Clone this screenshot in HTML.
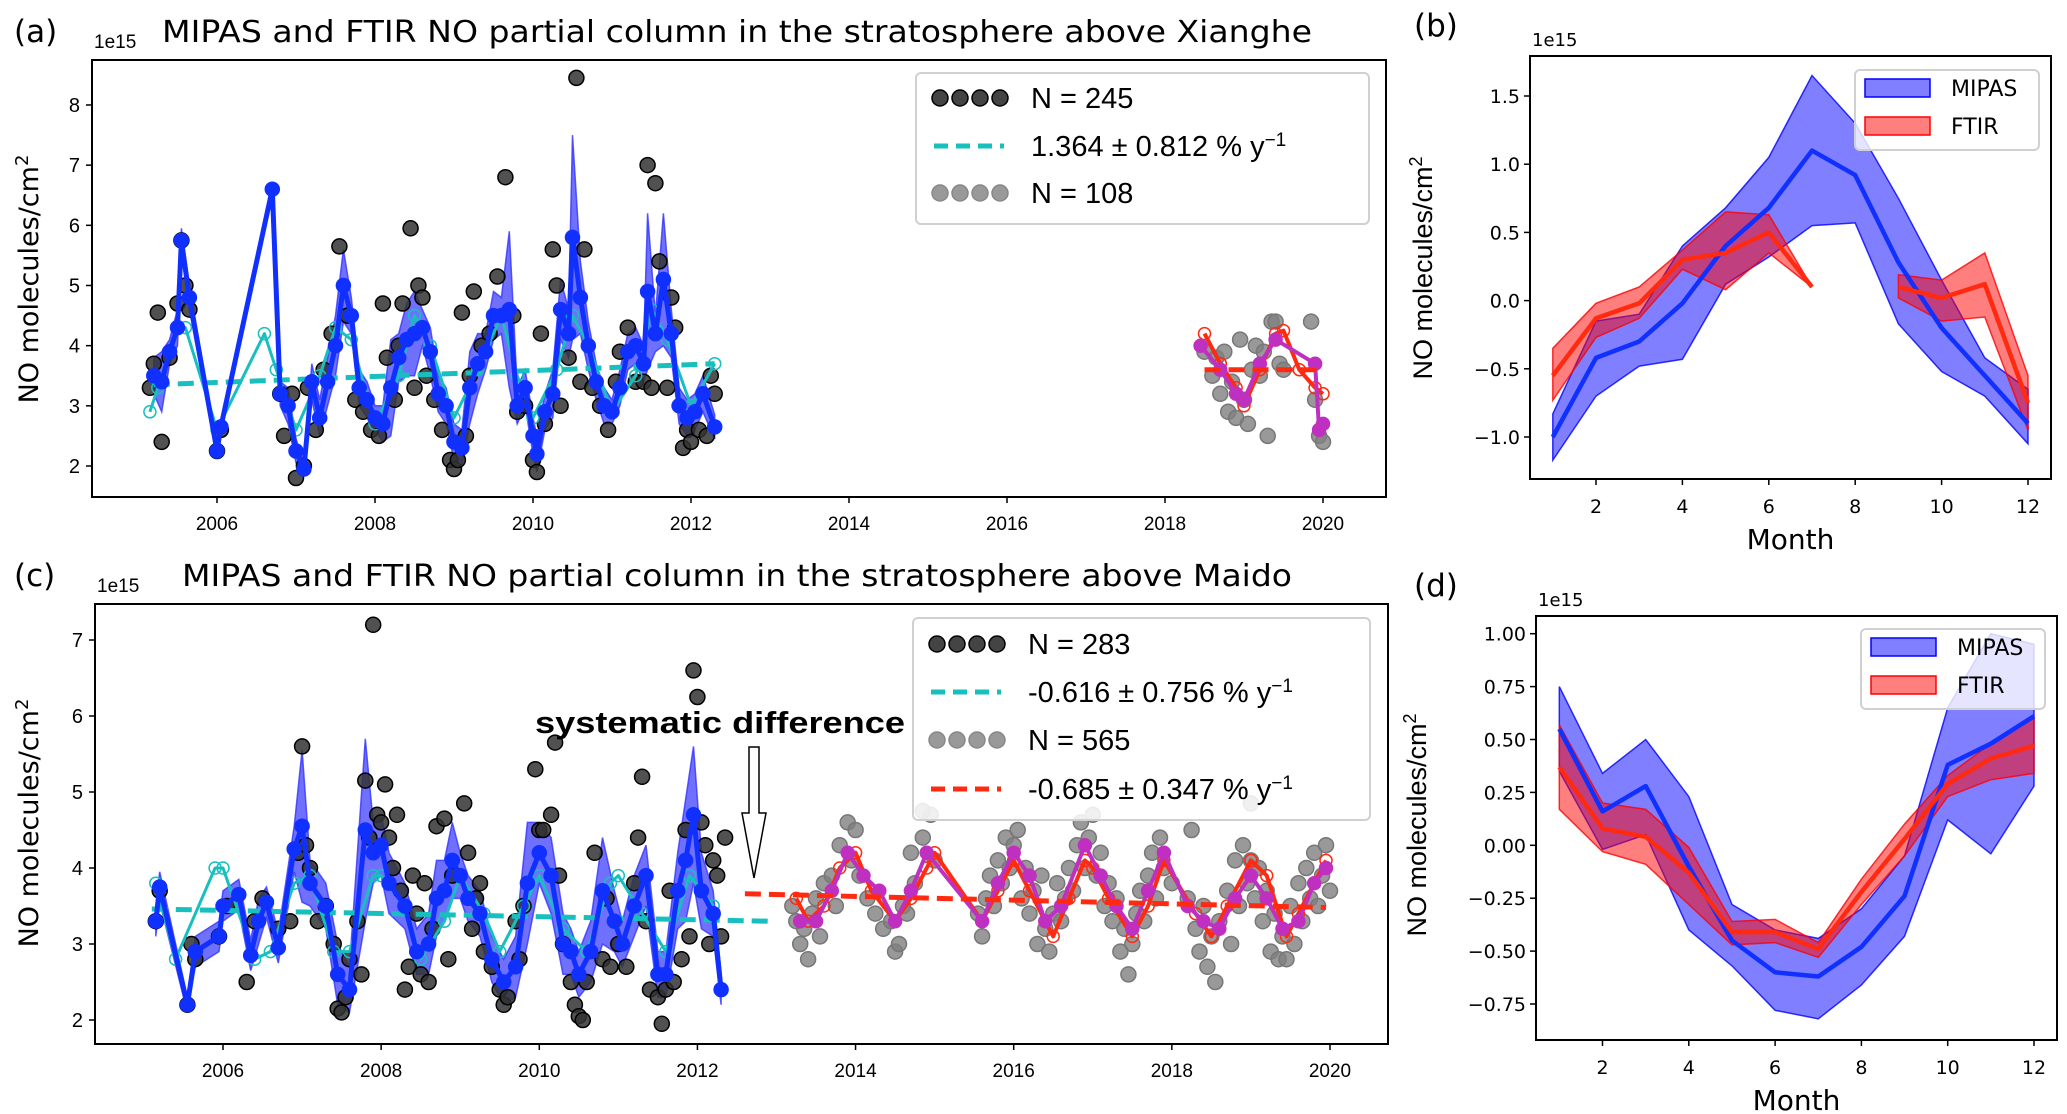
<!DOCTYPE html>
<html><head><meta charset="utf-8"><style>
html,body{margin:0;padding:0;background:#fff;}
svg{display:block;font-family:"Liberation Sans","DejaVu Sans",sans-serif;}
</style></head><body>
<svg id="fig" width="2067" height="1114" viewBox="0 0 2067 1114" xmlns="http://www.w3.org/2000/svg"></svg>
<script>
// ---------- Panel (a) data: Xianghe ----------
const aBlackX=[2005.15,2005.2,2005.25,2005.3,2005.4,2005.5,2005.55,2005.6,2005.65,2006.0,2006.05,2006.8,2006.85,2006.95,2007.0,2007.1,2007.15,2007.25,2007.35,2007.45,2007.55,2007.65,2007.75,2007.85,2007.95,2008.05,2008.1,2008.15,2008.25,2008.3,2008.35,2008.45,2008.5,2008.55,2008.6,2008.65,2008.75,2008.85,2008.95,2009.0,2009.05,2009.1,2009.15,2009.2,2009.25,2009.35,2009.45,2009.55,2009.65,2009.75,2009.8,2009.9,2010.0,2010.05,2010.1,2010.15,2010.25,2010.3,2010.35,2010.45,2010.55,2010.6,2010.65,2010.75,2010.85,2010.95,2011.05,2011.1,2011.2,2011.3,2011.4,2011.45,2011.5,2011.55,2011.6,2011.7,2011.75,2011.8,2011.9,2011.95,2012.0,2012.1,2012.2,2012.25,2012.3];
const aBlackY=[3.3,3.7,4.55,2.4,3.8,4.7,5.75,5.0,4.6,2.25,2.6,3.2,2.5,3.2,1.8,2.0,3.3,2.6,3.6,4.2,5.65,4.5,3.1,2.9,2.6,2.5,4.7,3.8,3.1,4.0,4.7,5.95,3.3,5.0,4.8,3.5,3.1,2.6,2.1,1.95,2.1,4.55,2.5,3.5,4.9,4.0,4.2,5.15,6.8,4.5,2.9,3.0,2.1,1.9,4.2,2.7,5.6,5.0,3.0,3.8,8.45,3.4,5.6,3.3,3.0,2.6,3.4,3.9,4.3,3.4,3.4,7.0,3.3,6.7,5.4,3.3,4.8,4.3,2.3,2.6,2.4,2.6,2.5,3.5,3.2];
const aGrayX=[2018.5,2018.6,2018.65,2018.7,2018.75,2018.8,2018.85,2018.9,2018.95,2019.0,2019.05,2019.1,2019.15,2019.2,2019.25,2019.3,2019.35,2019.4,2019.45,2019.5,2019.85,2019.9,2019.95,2020.0];
const aGrayY=[3.9,3.5,3.8,3.2,3.9,2.9,3.4,2.8,4.1,3.1,2.7,3.6,4.0,3.5,3.9,2.5,4.4,4.4,3.7,3.6,4.4,3.1,2.5,2.4];
const aBlueX=[2005.2,2005.3,2005.4,2005.5,2005.55,2005.65,2006.0,2006.05,2006.7,2006.8,2006.9,2007.0,2007.1,2007.2,2007.3,2007.4,2007.5,2007.6,2007.7,2007.8,2007.9,2008.0,2008.1,2008.2,2008.3,2008.4,2008.5,2008.6,2008.7,2008.8,2008.9,2009.0,2009.1,2009.2,2009.3,2009.4,2009.5,2009.6,2009.7,2009.8,2009.9,2010.0,2010.05,2010.15,2010.25,2010.35,2010.45,2010.5,2010.6,2010.7,2010.8,2010.9,2011.0,2011.1,2011.2,2011.3,2011.4,2011.45,2011.55,2011.65,2011.75,2011.85,2011.95,2012.05,2012.15,2012.3];
const aBlueY=[3.5,3.4,3.9,4.3,5.75,4.8,2.25,2.65,6.6,3.2,3.0,2.25,1.95,3.4,2.8,3.4,4.0,5.0,4.5,3.3,3.1,2.8,2.7,3.3,3.8,4.1,4.2,4.3,3.9,3.2,3.0,2.4,2.3,3.3,3.7,3.9,4.5,4.5,4.6,3.0,3.3,2.5,2.2,2.9,3.2,4.6,4.2,5.8,4.8,4.0,3.4,3.0,2.9,3.3,3.9,4.0,3.7,4.9,4.2,5.1,4.2,3.0,2.8,2.9,3.2,2.65];
const aBlueSpread=[0.3,0.5,0.2,0.3,0.2,0.2,0.1,0.1,0.1,0.2,0.3,0.2,0.1,0.3,0.3,0.4,0.5,0.6,0.3,0.3,0.3,0.2,0.3,0.8,0.4,0.6,0.7,0.3,0.4,0.3,0.3,0.3,0.3,0.6,0.5,0.3,0.4,0.3,1.3,0.3,0.3,0.3,0.3,0.3,0.4,0.5,0.4,1.7,0.6,0.4,0.3,0.3,0.2,0.3,0.3,0.3,0.3,1.3,0.3,1.1,0.4,0.3,0.3,0.3,0.3,0.2];
const aCyanX=[2005.15,2005.25,2005.5,2005.6,2006.0,2006.6,2006.75,2007.0,2007.3,2007.5,2007.7,2008.0,2008.3,2008.5,2008.7,2009.0,2009.3,2009.6,2009.8,2010.0,2010.3,2010.5,2010.7,2011.0,2011.3,2011.5,2011.7,2012.0,2012.3];
const aCyanY=[2.9,3.3,4.3,4.3,2.6,4.2,3.6,2.6,3.5,4.3,4.1,2.7,3.5,4.5,4.0,2.8,3.6,4.5,3.5,2.8,3.6,4.5,4.0,2.9,3.5,4.6,4.1,3.0,3.7];
const aTrendX=[2005.2,2012.3];
const aTrendY=[3.35,3.7];
const aRedX=[2018.5,2018.7,2018.9,2019.0,2019.2,2019.4,2019.5,2019.7,2019.9,2020.0];
const aRedY=[4.2,3.7,3.3,3.0,3.6,4.2,4.25,3.6,3.3,3.2];
const aMagX=[2018.45,2018.7,2018.9,2019.0,2019.2,2019.4,2019.9,2019.95,2020.0];
const aMagY=[4.0,3.6,3.2,3.1,3.7,4.1,3.7,2.6,2.7];
const aRedTrendX=[2018.5,2020.0];
const aRedTrendY=[3.6,3.6];
const aYTicks=[2,3,4,5,6,7,8];
const xYearTicks=[2006,2008,2010,2012,2014,2016,2018,2020];

// ---------- Panel (c) data: Maido ----------
const cBlackX=[2005.15,2005.2,2005.55,2005.6,2005.65,2005.95,2006.05,2006.3,2006.4,2006.5,2006.7,2006.85,2006.95,2007.0,2007.05,2007.1,2007.2,2007.3,2007.4,2007.45,2007.5,2007.55,2007.6,2007.7,2007.75,2007.8,2007.85,2007.9,2007.95,2008.0,2008.05,2008.1,2008.15,2008.2,2008.25,2008.3,2008.35,2008.4,2008.45,2008.5,2008.55,2008.6,2008.7,2008.8,2008.85,2008.9,2009.05,2009.1,2009.15,2009.2,2009.3,2009.4,2009.5,2009.55,2009.6,2009.7,2009.75,2009.8,2009.95,2010.0,2010.05,2010.15,2010.2,2010.25,2010.3,2010.4,2010.45,2010.5,2010.55,2010.6,2010.7,2010.8,2010.9,2011.0,2011.1,2011.2,2011.25,2011.3,2011.4,2011.5,2011.55,2011.6,2011.7,2011.8,2011.85,2011.9,2011.95,2012.0,2012.05,2012.1,2012.15,2012.2,2012.25,2012.3,2012.35,2011.35,2011.65,2010.85,2009.25,2008.65];
const cBlackY=[3.3,3.7,2.2,3.0,2.8,3.1,3.5,2.5,3.3,3.6,3.2,3.3,4.2,5.6,4.3,4.0,3.3,3.5,3.0,2.15,2.1,2.3,2.8,3.3,2.6,5.15,4.4,7.2,4.7,4.6,5.1,4.4,4.0,4.7,3.7,2.4,2.7,3.9,3.4,2.6,3.8,2.5,4.55,4.65,2.8,3.9,4.85,4.2,3.2,3.6,2.9,2.7,2.4,2.2,2.3,3.3,2.8,3.5,5.3,4.5,4.5,4.7,5.65,3.9,3.0,2.5,2.2,2.05,2.0,2.5,4.2,2.8,2.7,3.0,2.7,3.8,4.4,5.2,2.4,2.3,1.95,2.4,2.5,2.8,4.5,3.1,6.6,6.25,4.6,4.3,3.0,4.1,3.9,3.1,4.4,3.3,3.7,3.6,3.8,3.2];
const cGrayX=[2013.2,2013.25,2013.3,2013.35,2013.4,2013.45,2013.5,2013.55,2013.6,2013.7,2013.75,2013.8,2013.9,2013.95,2014.0,2014.05,2014.15,2014.25,2014.35,2014.45,2014.5,2014.55,2014.6,2014.65,2014.7,2014.75,2014.85,2014.95,2015.0,2015.55,2015.6,2015.65,2015.7,2015.75,2015.8,2015.85,2015.9,2015.95,2016.0,2016.05,2016.1,2016.15,2016.2,2016.25,2016.3,2016.35,2016.4,2016.45,2016.5,2016.55,2016.6,2016.65,2016.7,2016.75,2016.8,2016.85,2016.9,2016.95,2017.0,2017.05,2017.1,2017.15,2017.2,2017.25,2017.3,2017.35,2017.4,2017.45,2017.5,2017.55,2017.6,2017.65,2017.7,2017.75,2017.8,2017.85,2017.9,2018.0,2018.2,2018.25,2018.3,2018.35,2018.4,2018.45,2018.5,2018.55,2018.6,2018.7,2018.75,2018.8,2018.85,2018.9,2018.95,2019.0,2019.05,2019.1,2019.15,2019.2,2019.25,2019.3,2019.35,2019.4,2019.45,2019.5,2019.55,2019.6,2019.65,2019.7,2019.75,2019.8,2019.85,2019.9,2019.95,2020.0,2019.0,2014.85];
const cGrayY=[3.5,3.3,3.0,3.2,2.8,3.4,3.6,3.1,3.8,3.9,3.5,4.3,4.6,4.1,4.5,3.9,3.6,3.4,3.2,3.3,2.9,3.0,3.5,3.4,4.2,3.8,4.4,4.7,4.1,3.4,3.1,3.6,3.9,3.5,4.1,3.8,4.4,4.0,4.3,4.5,3.6,4.0,3.4,3.7,3.0,3.9,3.2,2.9,3.4,3.8,3.3,3.6,4.0,3.7,4.3,4.6,4.0,4.4,4.7,3.9,4.2,3.5,3.8,3.3,3.6,2.9,3.2,2.6,3.0,3.4,3.7,3.3,3.9,4.2,3.6,4.4,4.0,3.8,3.6,4.5,3.2,2.9,3.5,2.7,3.1,2.5,3.3,3.7,3.0,4.1,3.5,4.3,3.8,4.1,3.6,4.0,3.3,3.7,2.9,3.4,2.8,3.1,2.8,3.5,3.0,3.8,3.3,4.0,3.6,4.2,3.5,3.9,4.3,3.7,4.85,4.75];
const cBlueX=[2005.15,2005.2,2005.55,2005.65,2005.95,2006.0,2006.2,2006.35,2006.45,2006.55,2006.7,2006.9,2007.0,2007.1,2007.3,2007.45,2007.6,2007.8,2007.9,2008.0,2008.1,2008.3,2008.45,2008.6,2008.7,2008.8,2008.9,2009.0,2009.1,2009.25,2009.4,2009.55,2009.7,2009.85,2010.0,2010.15,2010.3,2010.4,2010.5,2010.65,2010.8,2010.95,2011.05,2011.2,2011.35,2011.5,2011.6,2011.75,2011.85,2011.95,2012.05,2012.2,2012.3];
const cBlueY=[3.3,3.75,2.2,2.9,3.1,3.5,3.65,2.85,3.3,3.55,2.95,4.25,4.55,3.8,3.5,2.6,2.4,4.5,4.2,4.3,3.8,3.5,2.9,3.0,3.6,3.7,4.1,3.9,3.6,3.4,2.8,2.5,2.7,3.8,4.2,3.9,3.0,2.9,2.6,2.9,3.7,3.3,3.0,3.5,3.9,2.6,2.6,3.7,4.1,4.7,3.7,3.4,2.4];
const cBlueSpread=[0.2,0.2,0.1,0.2,0.2,0.2,0.2,0.2,0.3,0.2,0.2,0.3,1.0,0.3,0.3,0.4,0.3,1.2,0.4,0.4,0.4,0.3,0.3,0.4,0.5,0.4,0.5,0.3,0.3,0.3,0.3,0.3,0.4,0.8,0.4,0.5,0.4,0.3,0.3,0.4,0.7,0.4,0.3,0.4,0.4,0.3,0.3,0.5,0.8,0.9,0.5,0.3,0.2];
const cCyanX=[2005.15,2005.4,2005.9,2006.0,2006.4,2006.6,2006.9,2007.1,2007.4,2007.6,2007.9,2008.0,2008.3,2008.5,2008.8,2009.0,2009.3,2009.5,2009.8,2010.0,2010.3,2010.6,2010.9,2011.0,2011.3,2011.6,2011.9,2012.2];
const cCyanY=[3.8,2.8,4.0,4.0,2.8,2.9,3.8,3.9,2.9,2.9,3.9,3.9,3.5,2.8,3.3,3.9,3.4,2.9,3.5,3.9,3.2,2.9,3.8,3.9,3.4,2.9,3.9,3.5];
const cTrendX=[2005.1,2012.9];
const cTrendY=[3.46,3.3];
const cRedX=[2013.25,2013.4,2013.6,2013.8,2014.0,2014.2,2014.5,2014.7,2014.9,2015.0,2015.6,2015.8,2016.0,2016.2,2016.5,2016.7,2016.9,2017.0,2017.2,2017.5,2017.7,2017.9,2018.3,2018.5,2018.7,2019.0,2019.2,2019.45,2019.6,2019.8,2019.95];
const cRedY=[3.6,3.3,3.5,4.0,4.2,3.7,3.3,3.6,4.0,4.2,3.3,3.7,4.1,3.7,3.1,3.6,4.1,4.0,3.6,3.1,3.5,4.1,3.4,3.1,3.5,4.1,3.9,3.1,3.4,3.8,4.1];
const cMagX=[2013.3,2013.5,2013.7,2013.9,2014.1,2014.3,2014.5,2014.7,2014.9,2015.6,2015.8,2016.0,2016.2,2016.4,2016.6,2016.9,2017.1,2017.3,2017.5,2017.7,2017.9,2018.2,2018.4,2018.6,2018.8,2019.0,2019.2,2019.4,2019.6,2019.8,2019.95];
const cMagY=[3.3,3.3,3.7,4.2,3.9,3.7,3.3,3.7,4.2,3.3,3.8,4.2,3.9,3.3,3.5,4.3,3.9,3.5,3.2,3.7,4.2,3.5,3.3,3.2,3.6,3.9,3.6,3.2,3.3,3.8,4.0];
const cRedTrendX=[2012.6,2019.95];
const cRedTrendY=[3.66,3.48];
const cYTicks=[2,3,4,5,6,7];

// ---------- Panels (b),(d): monthly anomalies ----------
const months=[1,2,3,4,5,6,7,8,9,10,11,12];
const bMipasMean=[-1.0,-0.42,-0.3,-0.02,0.4,0.68,1.1,0.92,0.28,-0.2,-0.55,-0.9];
const bMipasLo=[-1.17,-0.7,-0.48,-0.43,0.12,0.32,0.55,0.57,-0.17,-0.52,-0.7,-1.05];
const bMipasHi=[-0.83,-0.15,-0.1,0.4,0.68,1.05,1.65,1.3,0.75,0.15,-0.42,-0.65];
const bFtirMean=[-0.55,-0.13,-0.02,0.3,0.35,0.5,0.1,null,0.1,0.02,0.12,-0.75];
const bFtirLo=[-0.73,-0.27,-0.13,0.23,0.08,0.35,0.1,null,0.02,-0.15,-0.12,-0.95];
const bFtirHi=[-0.35,-0.02,0.1,0.37,0.65,0.63,0.1,null,0.19,0.15,0.35,-0.55];
const bYTicks=[-1.0,-0.5,0.0,0.5,1.0,1.5];
const dMipasMean=[0.55,0.16,0.28,-0.1,-0.45,-0.6,-0.62,-0.48,-0.24,0.38,0.48,0.61];
const dMipasLo=[0.35,-0.02,0.05,-0.4,-0.57,-0.78,-0.82,-0.66,-0.43,0.12,-0.04,0.28];
const dMipasHi=[0.75,0.34,0.5,0.23,-0.28,-0.4,-0.44,-0.3,-0.05,0.65,1.0,0.95];
const dFtirMean=[0.37,0.08,0.04,-0.13,-0.41,-0.41,-0.49,-0.22,0.03,0.29,0.41,0.47];
const dFtirLo=[0.17,-0.03,-0.09,-0.28,-0.47,-0.46,-0.53,-0.28,-0.05,0.23,0.31,0.34];
const dFtirHi=[0.57,0.2,0.17,-0.01,-0.36,-0.35,-0.46,-0.16,0.1,0.33,0.48,0.6];
const dYTicks=[-0.75,-0.5,-0.25,0.0,0.25,0.5,0.75,1.0];
const monthTicks=[2,4,6,8,10,12];

const NS="http://www.w3.org/2000/svg";
const svg=document.getElementById('fig');
function mk(tag,attrs,parent){const e=document.createElementNS(NS,tag);for(const k in attrs)e.setAttribute(k,attrs[k]);(parent||svg).appendChild(e);return e;}
function txt(s,attrs,parent){const e=mk('text',attrs,parent);e.textContent=s;return e;}

function axes(name){
  const g=mk('g',{});
  
  
  return g;
}
function frame(g,L,R,T,B){
  const r=mk('rect',{x:L,y:T,width:R-L,height:B-T,fill:'none',stroke:'#000','stroke-width':2},g);
  
  
}
function pathOf(xs,ys,X,Y){let d='',pen=false;for(let i=0;i<xs.length;i++){if(ys[i]===null){pen=false;continue;}d+=(pen?'L':'M')+X(xs[i]).toFixed(1)+' '+Y(ys[i]).toFixed(1);pen=true;}return d;}
function band(g,xs,lo,hi,X,Y,fill,op,stroke,name){
  let segs=[],cur=[];
  for(let i=0;i<xs.length;i++){if(lo[i]===null){if(cur.length)segs.push(cur);cur=[];}else cur.push(i);}
  if(cur.length)segs.push(cur);
  segs.forEach(s=>{
    let d='M'+s.map(i=>X(xs[i]).toFixed(1)+' '+Y(hi[i]).toFixed(1)).join('L');
    d+='L'+s.slice().reverse().map(i=>X(xs[i]).toFixed(1)+' '+Y(lo[i]).toFixed(1)).join('L')+'Z';
    const p=mk('path',{d:d,fill:fill,'fill-opacity':op,stroke:stroke,'stroke-width':1.5,'stroke-opacity':0.8},g);
    
    
  });
}
function line(g,xs,ys,X,Y,col,w,dash,name){
  const p=mk('path',{d:pathOf(xs,ys,X,Y),fill:'none',stroke:col,'stroke-width':w,'stroke-linejoin':'round'},g);
  if(dash)p.setAttribute('stroke-dasharray',dash);
  
  
}
function dots(g,xs,ys,X,Y,r,fill,stroke,op,name){
  for(let i=0;i<xs.length;i++){
    const c=mk('circle',{cx:X(xs[i]).toFixed(1),cy:Y(ys[i]).toFixed(1),r:r,fill:fill,stroke:stroke,'stroke-width':1.5,'fill-opacity':op},g);
    
    
  }
}

function tsPanel(cfg){
  const g=axes(cfg.name);
  const {L,R,T,B,X,Y}=cfg;
  const cp=mk('clipPath',{id:cfg.name+'-clip'},g);mk('rect',{x:L,y:T,width:R-L,height:B-T},cp);
  const pg=mk('g',{'clip-path':'url(#'+cfg.name+'-clip)'},g);
  band(pg,cfg.blueX,cfg.blueY.map((v,i)=>v-cfg.blueS[i]),cfg.blueY.map((v,i)=>v+cfg.blueS[i]),X,Y,'#3333ff',0.7,'#3333ff','mipas-spread');
  dots(pg,cfg.blackX,cfg.blackY,X,Y,7.5,'#333','#000',0.85,'mipas-point');
  dots(pg,cfg.grayX,cfg.grayY,X,Y,7.5,'#808080','#777',0.8,'ftir-point');
  line(pg,cfg.trendX,cfg.trendY,X,Y,'#17bfbf',5,'16 8','mipas-trend');
  line(pg,cfg.cyanX,cfg.cyanY,X,Y,'#17bfbf',3,null,'mipas-smooth');
  dots(pg,cfg.cyanX,cfg.cyanY,X,Y,6,'none','#17bfbf',1,'mipas-smooth-marker');
  line(pg,cfg.blueX,cfg.blueY,X,Y,'#1030ff',5,null,'mipas-monthly');
  dots(pg,cfg.blueX,cfg.blueY,X,Y,7,'#1030ff','#1030ff',1,'mipas-monthly-marker');
  line(pg,cfg.redX,cfg.redY,X,Y,'#ff2a10',4,null,'ftir-monthly');
  dots(pg,cfg.redX,cfg.redY,X,Y,6,'none','#ff2a10',1,'ftir-monthly-marker');
  line(pg,cfg.magX,cfg.magY,X,Y,'#c030c0',4,null,'ftir-smooth');
  dots(pg,cfg.magX,cfg.magY,X,Y,6.5,'#c030c0','#c030c0',1,'ftir-smooth-marker');
  line(pg,cfg.rtX,cfg.rtY,X,Y,'#ff2a10',5,'16 8','ftir-trend');
  frame(g,L,R,T,B);
  cfg.yTicks.forEach(v=>{
    mk('line',{x1:L-6,x2:L,y1:Y(v),y2:Y(v),stroke:'#000','stroke-width':1.5},g);
    const t=txt(String(v),{x:L-12,y:Y(v)+7,'font-size':20,'text-anchor':'end'},g);
    
    
  });
  xYearTicks.forEach(v=>{
    mk('line',{x1:X(v),x2:X(v),y1:B,y2:B+6,stroke:'#000','stroke-width':1.5},g);
    const t=txt(String(v),{x:X(v),y:B+33,'font-size':19,'text-anchor':'middle'},g);
    
    
  });
  const yl=txt('NO molecules/cm',{x:0,y:0,'font-size':27,'font-family':'"DejaVu Sans",sans-serif','text-anchor':'middle',transform:`translate(${cfg.ylx},${cfg.yly}) rotate(-90)`},g);
  mk('tspan',{'baseline-shift':'super','font-size':18},yl).textContent='2';
  
  
  const ex=txt('1e15',{x:L+2,y:T-12,'font-size':19},g);
  
  
  const pl=txt(cfg.letter,{x:14,y:T-18,'font-size':31,'font-family':'"DejaVu Sans",sans-serif'},g);
  
  
  const ti=txt(cfg.title,{x:cfg.titleX,y:T-18,'font-size':30,'font-family':'"DejaVu Sans",sans-serif',textLength:cfg.titleW,lengthAdjust:'spacingAndGlyphs'},g);
  
  
  return g;
}

const aX=t=>217+(t-2006)*79;
const aY=v=>466-(v-2)*60.17;
const ga=tsPanel({name:'panel-a',letter:'(a)',title:'MIPAS and FTIR NO partial column in the stratosphere above Xianghe',titleX:162,titleW:1150,
  L:92,R:1386,T:60,B:497,X:aX,Y:aY,yTicks:aYTicks,ylx:38,yly:279,
  blackX:aBlackX,blackY:aBlackY,grayX:aGrayX,grayY:aGrayY,blueX:aBlueX,blueY:aBlueY,blueS:aBlueSpread,
  cyanX:aCyanX,cyanY:aCyanY,trendX:aTrendX,trendY:aTrendY,redX:aRedX,redY:aRedY,magX:aMagX,magY:aMagY,rtX:aRedTrendX,rtY:aRedTrendY});

const cX=t=>223+(t-2006)*79.07;
const cY=v=>1020-(v-2)*76;
const gc=tsPanel({name:'panel-c',letter:'(c)',title:'MIPAS and FTIR NO partial column in the stratosphere above Maido',titleX:182,titleW:1110,
  L:95,R:1388,T:604,B:1044,X:cX,Y:cY,yTicks:cYTicks,ylx:38,yly:823,
  blackX:cBlackX,blackY:cBlackY,grayX:cGrayX,grayY:cGrayY,blueX:cBlueX,blueY:cBlueY,blueS:cBlueSpread,
  cyanX:cCyanX,cyanY:cCyanY,trendX:cTrendX,trendY:cTrendY,redX:cRedX,redY:cRedY,magX:cMagX,magY:cMagY,rtX:cRedTrendX,rtY:cRedTrendY});

function tsLegend(g,x,y,w,h,rows){
  const lg=mk('g',{},g);
  
  
  mk('rect',{x:x,y:y,width:w,height:h,rx:5,fill:'#fff','fill-opacity':0.85,stroke:'#d0d0d0','stroke-width':2},lg);
  rows.forEach(r=>{
    const e=mk('g',{},lg);
    
    
    if(r.type==='dots'){for(let k=0;k<4;k++)mk('circle',{cx:x+24+k*20,cy:r.y,r:8,fill:r.col,stroke:r.edge,'stroke-width':1.5},e);}
    else mk('line',{x1:x+18,x2:x+88,y1:r.y,y2:r.y,stroke:r.col,'stroke-width':5,'stroke-dasharray':'14 8'},e);
    const t=txt(r.text,{x:x+115,y:r.y+10,'font-size':29},e);
    if(r.sup){mk('tspan',{'baseline-shift':'super','font-size':19},t).textContent=r.sup;}
  });
}
tsLegend(ga,916,73,453,151,[
  {type:'dots',col:'#444',edge:'#000',y:98,text:'N = 245'},
  {type:'dash',col:'#17bfbf',y:146,text:'1.364 ± 0.812 % y',sup:'−1'},
  {type:'dots',col:'#999',edge:'#888',y:193,text:'N = 108'}]);
tsLegend(gc,913,618,457,202,[
  {type:'dots',col:'#444',edge:'#000',y:644,text:'N = 283'},
  {type:'dash',col:'#17bfbf',y:692,text:'-0.616 ± 0.756 % y',sup:'−1'},
  {type:'dots',col:'#999',edge:'#888',y:740,text:'N = 565'},
  {type:'dash',col:'#ff2a10',y:789,text:'-0.685 ± 0.347 % y',sup:'−1'}]);

const ann=txt('systematic difference',{x:720,y:733,'font-size':31,'font-weight':'bold','text-anchor':'middle',textLength:370,lengthAdjust:'spacingAndGlyphs'},gc);


const arr=mk('path',{d:'M749 747 L759 747 L759 813 L766 813 L754 878 L742 813 L749 813 Z',fill:'#fff',stroke:'#000','stroke-width':1.5},gc);



function monPanel(cfg){
  const g=axes(cfg.name);
  const {L,R,T,B,X,Y}=cfg;
  band(g,months,cfg.mLo,cfg.mHi,X,Y,'#0000ff',0.5,'#0000ff','mipas-band');
  band(g,months,cfg.fLo,cfg.fHi,X,Y,'#ff0000',0.5,'#ff0000','ftir-band');
  line(g,months,cfg.mMean,X,Y,'#1030ff',4.5,null,'mipas-mean-line');
  line(g,months,cfg.fMean,X,Y,'#ff2a10',4.5,null,'ftir-mean-line');
  frame(g,L,R,T,B);
  cfg.yTicks.forEach(v=>{
    mk('line',{x1:L-6,x2:L,y1:Y(v),y2:Y(v),stroke:'#000','stroke-width':1.5},g);
    let s=v.toFixed(cfg.dec).replace('-','−');
    const t=txt(s,{x:L-10,y:Y(v)+7,'font-size':19,'font-family':'"DejaVu Sans",sans-serif','text-anchor':'end'},g);
    
    
  });
  monthTicks.forEach(v=>{
    mk('line',{x1:X(v),x2:X(v),y1:B,y2:B+6,stroke:'#000','stroke-width':1.5},g);
    const t=txt(String(v),{x:X(v),y:B+34,'font-size':19,'font-family':'"DejaVu Sans",sans-serif','text-anchor':'middle'},g);
    
    
  });
  const xl=txt('Month',{x:(L+R)/2,y:B+70,'font-size':28,'font-family':'"DejaVu Sans",sans-serif','text-anchor':'middle'},g);
  
  
  const yl=txt('NO molecules/cm',{x:0,y:0,'font-size':27,'text-anchor':'middle',transform:`translate(${cfg.ylx},${cfg.yly}) rotate(-90)`},g);
  mk('tspan',{'baseline-shift':'super','font-size':18},yl).textContent='2';
  
  
  const ex=txt('1e15',{x:L+2,y:T-10,'font-size':18,'font-family':'"DejaVu Sans",sans-serif'},g);
  
  
  const pl=txt(cfg.letter,{x:1414,y:T-20,'font-size':31,'font-family':'"DejaVu Sans",sans-serif'},g);
  
  
  const lg=mk('g',{},g);
  
  
  const lx=cfg.lx,ly=cfg.ly;
  mk('rect',{x:lx,y:ly,width:184,height:80,rx:5,fill:'#fff','fill-opacity':0.8,stroke:'#d0d0d0','stroke-width':2},lg);
  [['MIPAS','#0000ff',ly+18],['FTIR','#ff0000',ly+56]].forEach(r=>{
    const e=mk('g',{},lg);
    
    
    mk('rect',{x:lx+10,y:r[2]-9,width:65,height:18,fill:r[1],'fill-opacity':0.5,stroke:r[1],'stroke-width':1.5},e);
    txt(r[0],{x:lx+96,y:r[2]+8,'font-size':22,'font-family':'"DejaVu Sans",sans-serif'},e);
  });
}
monPanel({name:'panel-b',letter:'(b)',L:1530,R:2051,T:56,B:479,
  X:m=>1596+(m-2)*43.2,Y:v=>437-(v+1)*136.4,yTicks:bYTicks,dec:1,ylx:1432,yly:268,lx:1855,ly:70,
  mMean:bMipasMean,mLo:bMipasLo,mHi:bMipasHi,fMean:bFtirMean,fLo:bFtirLo,fHi:bFtirHi});
monPanel({name:'panel-d',letter:'(d)',L:1536,R:2057,T:616,B:1040,
  X:m=>1602.5+(m-2)*43.15,Y:v=>1004-(v+0.75)*211.6,yTicks:dYTicks,dec:2,ylx:1426,yly:825,lx:1861,ly:629,
  mMean:dMipasMean,mLo:dMipasLo,mHi:dMipasHi,fMean:dFtirMean,fLo:dFtirLo,fHi:dFtirHi});
</script>
</body></html>
